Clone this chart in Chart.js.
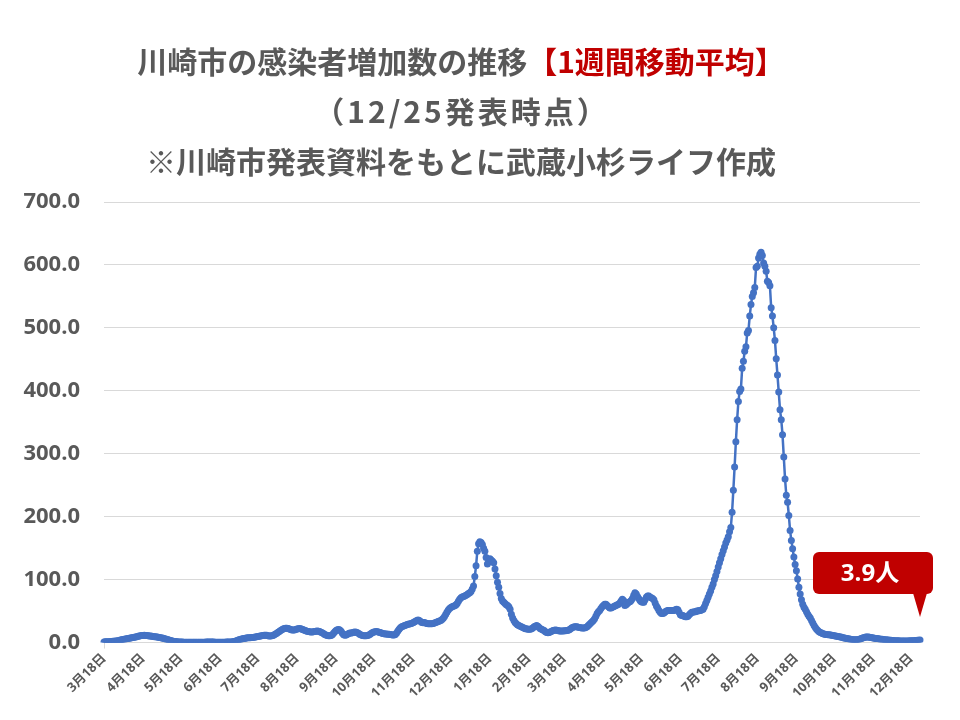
<!DOCTYPE html>
<html>
<head>
<meta charset="utf-8">
<script src="https://cdn.jsdelivr.net/npm/chart.js@4.4.1/dist/chart.umd.min.js"></script>
<style>
  body { margin: 0; background: #fff; }
  canvas { display: block; }
</style>
</head>
<body>
<canvas id="trendChart" width="960" height="720"></canvas>
<script>
// 1週間移動平均（人）, 2020/3/18 〜 2021/12/25
const mar20 = [1.0,1.1,1.3,1.4,1.4,1.6,1.7,1.9,2.1,2.3,2.6,3.0,3.4,3.9];
const apr20 = [4.3,4.7,5.1,5.6,6.0,6.4,6.9,7.3,7.7,8.1,8.6,9.0,9.4,9.9,10.3,10.7,11.1,11.4,11.5,11.4,11.2,10.9,10.6,10.3,10.0,9.7,9.4,9.1,8.8,8.5];
const may20 = [8.1,7.7,7.2,6.7,6.1,5.5,4.9,4.3,3.7,3.1,2.6,2.2,1.8,1.5,1.2,1.0,0.9,0.8,0.7,0.6,0.6,0.5,0.5,0.5,0.4,0.4,0.4,0.4,0.4,0.4,0.4];
const jun20 = [0.4,0.4,0.5,0.5,0.6,0.6,0.7,0.7,0.7,0.8,0.8,0.7,0.7,0.6,0.6,0.6,0.6,0.5,0.5,0.5,0.6,0.6,0.7,0.7,0.8,0.9,1.0,1.2,1.6,2.2];
const jul20 = [2.9,3.6,4.3,5.0,5.6,6.1,6.6,7.0,7.3,7.5,7.7,7.8,8.0,8.2,8.5,8.8,9.2,9.6,10.0,10.5,11.0,11.4,11.7,11.8,11.5,11.0,10.6,10.5,10.8,11.4,12.3];
const aug20 = [13.5,14.8,16.2,17.6,19.0,20.3,21.4,22.3,22.8,22.9,22.5,21.6,20.6,20.0,19.8,20.0,20.6,21.4,22.0,22.3,22.0,21.3,20.5,19.6,18.8,18.1,17.5,17.0,16.7,16.8,17.2];
const sep20 = [17.5,17.9,18.2,18.0,17.4,16.5,15.4,14.2,13.0,12.0,11.3,10.9,10.8,11.2,12.4,14.6,17.2,19.3,20.4,20.6,20.0,17.8,14.6,12.3,11.6,12.0,13.1,14.2,15.0,15.3];
const oct20 = [15.6,16.3,16.8,16.5,15.5,14.2,13.0,12.0,11.3,10.9,10.7,10.8,11.3,12.2,13.4,14.7,15.9,16.8,17.3,17.4,17.1,16.5,15.8,15.0,14.4,14.0,13.8,13.6,13.4,13.1,12.8];
const nov20 = [12.5,12.2,12.1,13.0,15.3,18.5,21.2,23.4,25.0,26.0,26.6,27.4,28.2,29.0,29.6,30.0,30.5,31.5,32.8,34.0,35.2,35.8,35.0,33.4,32.0,31.5,31.8,31.2,30.4,29.8];
const dec20 = [30.0,29.8,29.8,30.2,31.0,31.8,32.5,33.4,34.3,35.2,36.5,38.5,41.5,45.0,48.6,51.7,54.0,55.6,56.8,57.6,58.3,59.5,62.0,65.5,68.7,71.0,72.3,73.2,74.0,75.2,76.5];
const jan21 = [78,79,81,85,90,105,122,145,157,160,159,156,150,145,135,125,128,133,131,129,127,117,106,96,88,78,70,66,64,62,60];
const feb21 = [59,57,53,45,39,35,32,30,28,27,26,25,24,23,22,22,21,21,21,22,23,25,26,27,26,24,22,21];
const mar21 = [20,19,17,16,15.5,16,17,18,19,19.5,20,19.5,19,18.5,18.3,18.2,18.4,18.6,18.8,19,19.5,20.5,22,23.5,24.5,25,25.2,25,24.5,24,23.5];
const apr21 = [23,23,23,24,25,27,29,31,33,35,38,42,46,49,51,54,57,59,61,61,59,57,55,55,56,57,58,59,60,61];
const may21 = [63,66,69,67,59,60,62,64,65,67,70,75,79,77,73,70,67,65,64,64,68,72,74,74,72,71,70,68,63,58,55];
const jun21 = [51,48,46,46,47,49,50,51,51,51,51,51,51,52,53,52,48,44,43,43,42,41,41,42,44,46,48,48,49,49];
const jul21 = [50,50,51,51,52,53,57,62,67,72,77,82,88,93,100,106,113,120,127,133,140,146,152,158,163,168,176,183,207,242,279];
const aug21 = [319,354,383,399,403,436,447,463,470,492,496,519,537,550,556,564,596,598,611,617,620,615,603,598,590,574,572,567,532,519,500];
const sep21 = [480,451,425,398,370,354,330,295,260,234,223,202,178,162,149,136,124,114,101,88,77,68,61,56,53,49,45,42,39,35];
const oct21 = [31,27,24,21,19,17,16,15,14,13.5,13,12.8,12.6,12.3,12,11.6,11.2,10.8,10.4,10,9.6,9.2,8.8,8.3,7.8,7.3,6.8,6.3,5.9,5.5,5.2];
const nov21 = [4.9,4.6,4.4,4.3,4.4,4.8,5.4,6.1,6.8,7.5,8.2,8.7,9.0,8.9,8.6,8.2,7.8,7.4,7.0,6.6,6.3,6.0,5.7,5.4,5.1,4.8,4.6,4.4,4.2,4.0];
const dec21 = [3.8,3.6,3.4,3.2,3.0,2.9,2.8,2.7,2.6,2.6,2.5,2.5,2.5,2.5,2.6,2.6,2.7,2.8,2.9,3.0,3.2,3.4,3.6,3.8,3.9];

// [month, first day, values]
const months = [
  [3, 18, mar20], [4, 1, apr20], [5, 1, may20], [6, 1, jun20], [7, 1, jul20], [8, 1, aug20],
  [9, 1, sep20], [10, 1, oct20], [11, 1, nov20], [12, 1, dec20],
  [1, 1, jan21], [2, 1, feb21], [3, 1, mar21], [4, 1, apr21], [5, 1, may21], [6, 1, jun21],
  [7, 1, jul21], [8, 1, aug21], [9, 1, sep21], [10, 1, oct21], [11, 1, nov21], [12, 1, dec21]
];
const tickDay = 18;
const yTicks = [0, 100, 200, 300, 400, 500, 600, 700];
const titleLine1 = "川崎市の感染者増加数の推移";
const titleLine1Red = "【1週間移動平均】";
const titleLine2 = "（12/25発表時点）";
const titleLine3 = "※川崎市発表資料をもとに武蔵小杉ライフ作成";
const calloutText = "3.9人";

const labels = [];
const days = [];
const values = [];
months.forEach(([m, d0, arr]) => {
  arr.forEach((v, i) => {
    labels.push(`${m}月${d0 + i}日`);
    days.push(d0 + i);
    values.push(v);
  });
});

const gray = "#595959";
const red = "#C00000";
const blue = "#4472C4";
const cjk = '"Noto Sans CJK JP", sans-serif';
const latin = '"Open Sans", "Noto Sans CJK JP", sans-serif';

const titlePlugin = {
  id: "titleLines",
  afterDraw(chart) {
    const ctx = chart.ctx;
    const cx = 461;
    ctx.save();
    ctx.font = `bold 30px ${cjk}`;
    ctx.textBaseline = "middle";
    ctx.textAlign = "left";
    const w1 = ctx.measureText(titleLine1).width;
    const w2 = ctx.measureText(titleLine1Red).width;
    let x = cx - (w1 + w2) / 2;
    ctx.fillStyle = gray;
    ctx.fillText(titleLine1, x, 62);
    ctx.fillStyle = red;
    ctx.fillText(titleLine1Red, x + w1, 62);
    ctx.textAlign = "center";
    ctx.fillStyle = gray;
    ctx.letterSpacing = "3px";
    ctx.fillText(titleLine2, cx + 1, 112);
    ctx.letterSpacing = "0px";
    ctx.fillText(titleLine3, cx, 162);
    ctx.restore();
  }
};

const calloutPlugin = {
  id: "lastCallout",
  afterDatasetsDraw(chart) {
    const pts = chart.getDatasetMeta(0).data;
    const p = pts[pts.length - 1];
    const ctx = chart.ctx;
    const left = p.x - 107, right = p.x + 13;
    const top = p.y - 88, bottom = p.y - 46;
    ctx.save();
    ctx.fillStyle = red;
    ctx.beginPath();
    ctx.roundRect(left, top, right - left, bottom - top, 6);
    ctx.fill();
    ctx.beginPath();
    ctx.moveTo(p.x - 7, bottom - 1);
    ctx.lineTo(p.x + 7, bottom - 1);
    ctx.lineTo(p.x, p.y - 23);
    ctx.closePath();
    ctx.fill();
    ctx.fillStyle = "#fff";
    ctx.font = `bold 24px ${latin}`;
    ctx.textAlign = "center";
    ctx.textBaseline = "middle";
    ctx.fillText(calloutText, (left + right) / 2 - 3, (top + bottom) / 2 + 1);
    ctx.restore();
  }
};

new Chart(document.getElementById("trendChart"), {
  type: "line",
  data: {
    labels: labels,
    datasets: [{
      data: values,
      borderColor: blue,
      backgroundColor: blue,
      borderWidth: 2.5,
      pointRadius: 3.5,
      pointBorderWidth: 0,
      pointBackgroundColor: blue,
      tension: 0
    }]
  },
  options: {
    responsive: false,
    animation: false,
    layout: { padding: { top: 202, left: 0, right: 40, bottom: 17 } },
    plugins: {
      legend: { display: false },
      tooltip: { enabled: false }
    },
    scales: {
      x: {
        ticks: {
          autoSkip: false,
          minRotation: 45,
          maxRotation: 45,
          padding: 2,
          color: gray,
          font: { size: 13, weight: "bold", family: latin },
          callback: (v, i) => days[i] === tickDay ? labels[i] : null
        },
        grid: {
          drawOnChartArea: false,
          drawTicks: true,
          tickLength: 6,
          color: (c) => days[c.index] === tickDay ? "#D9D9D9" : "rgba(0,0,0,0)"
        },
        border: { color: "#D9D9D9" }
      },
      y: {
        min: yTicks[0],
        max: yTicks[yTicks.length - 1],
        afterBuildTicks: (s) => { s.ticks = yTicks.map(v => ({ value: v })); },
        afterFit: (s) => { s.width = 104; },
        ticks: {
          padding: 24,
          color: gray,
          font: { size: 22, weight: "bold", family: latin },
          callback: (v) => Number(v).toFixed(1)
        },
        grid: { color: "#D9D9D9", drawTicks: false },
        border: { display: false }
      }
    }
  },
  plugins: [titlePlugin, calloutPlugin]
});
</script>
</body>
</html>
